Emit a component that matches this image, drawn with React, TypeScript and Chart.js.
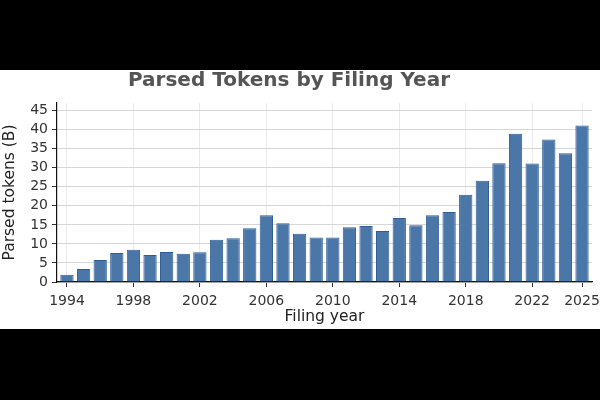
import React, { useEffect, useRef } from "react";
import { Chart, registerables } from "chart.js";

Chart.register(...registerables);

const years: number[] = [
  1994, 1995, 1996, 1997, 1998, 1999, 2000, 2001, 2002, 2003, 2004, 2005, 2006, 2007, 2008, 2009,
  2010, 2011, 2012, 2013, 2014, 2015, 2016, 2017, 2018, 2019, 2020, 2021, 2022, 2023, 2024, 2025,
];
const tokensB: number[] = [
  1.9, 3.4, 5.8, 7.6, 8.5, 7.1, 7.9, 7.4, 7.8, 11.1, 11.5, 14.1, 17.5, 15.4, 12.7, 11.7,
  11.7, 14.4, 14.7, 13.4, 16.8, 14.9, 17.5, 18.4, 22.9, 26.6, 31.2, 38.9, 31.1, 37.4, 33.8, 41.1,
];
const xTickYears: number[] = [1994, 1998, 2002, 2006, 2010, 2014, 2018, 2022, 2025];
const yTickValues: number[] = [0, 5, 10, 15, 20, 25, 30, 35, 40, 45];

const titleText = "Parsed Tokens by Filing Year";
const xTitle = "Filing year";
const yTitle = "Parsed tokens (B)";

const FONT = "'DejaVu Sans', sans-serif";

export default function App() {
  const ref = useRef<HTMLCanvasElement | null>(null);

  useEffect(() => {
    if (!ref.current) return;
    const titlePlugin = {
      id: "customTitle",
      afterDraw(chart: any) {
        const ctx = chart.ctx;
        ctx.save();
        ctx.font = `bold 20px ${FONT}`;
        ctx.fillStyle = "#555555";
        ctx.textAlign = "center";
        ctx.textBaseline = "alphabetic";
        ctx.fillText(titleText, 289, 16.3);
        ctx.restore();
      },
    };
    const chart = new Chart(ref.current, {
      type: "bar",
      data: {
        datasets: [
          {
            data: years.map((y, i) => ({ x: y, y: tokensB[i] })),
            backgroundColor: "#4a76a8",
            borderColor: "#2f5e96",
            borderWidth: 1,
            categoryPercentage: 1,
            barPercentage: 0.8,
          },
        ],
      },
      options: {
        animation: false,
        responsive: false,
        devicePixelRatio: 1,
        layout: { padding: { top: 33, right: 8, left: 0, bottom: 0 } },
        plugins: {
          legend: { display: false },
          title: { display: false },
          tooltip: { enabled: false },
        },
        scales: {
          x: {
            type: "linear",
            min: 1993.4,
            max: 2025.6,
            offset: false,
            afterBuildTicks: (scale: any) => {
              scale.ticks = xTickYears.map((v) => ({ value: v }));
            },
            afterFit: (scale: any) => {
              scale.height = 47;
              scale.paddingLeft = 0;
              scale.paddingRight = 0;
            },
            ticks: {
              autoSkip: false,
              maxRotation: 0,
              padding: 6,
              color: "#333333",
              font: { family: FONT, size: 14 },
              callback: (v: any) => String(v),
            },
            grid: {
              offset: false,
              color: "#ebebeb",
              lineWidth: 1,
              tickColor: "#333333",
              tickLength: 5,
              drawTicks: true,
            },
            border: { display: true, color: "#111111", width: 1.2 },
            title: {
              display: true,
              text: xTitle,
              color: "#222222",
              font: { family: FONT, size: 15.5 },
              padding: { top: 0, bottom: 3 },
            },
          },
          y: {
            min: 0,
            max: 47,
            afterBuildTicks: (scale: any) => {
              scale.ticks = yTickValues.map((v) => ({ value: v }));
            },
            afterFit: (scale: any) => {
              scale.width = 57;
              scale.paddingTop = 0;
              scale.paddingBottom = 0;
            },
            ticks: {
              padding: 4,
              color: "#333333",
              font: { family: FONT, size: 14 },
            },
            grid: {
              color: "#d6d6d6",
              lineWidth: 1,
              tickColor: "#333333",
              tickLength: 5,
            },
            border: { display: true, color: "#111111", width: 1.2 },
            title: {
              display: true,
              text: yTitle,
              color: "#222222",
              font: { family: FONT, size: 15.5 },
              padding: { top: 1, bottom: 0 },
            },
          },
        },
      },
      plugins: [titlePlugin],
    } as any);
    return () => chart.destroy();
  }, []);

  return (
    <div style={{ position: "fixed", inset: 0, background: "#000000" }}>
      <div
        style={{
          position: "absolute",
          left: 0,
          top: 70,
          width: 600,
          height: 259,
          background: "#ffffff",
        }}
      >
        <canvas ref={ref} width={600} height={259} style={{ display: "block", width: 600, height: 259 }} />
      </div>
    </div>
  );
}
